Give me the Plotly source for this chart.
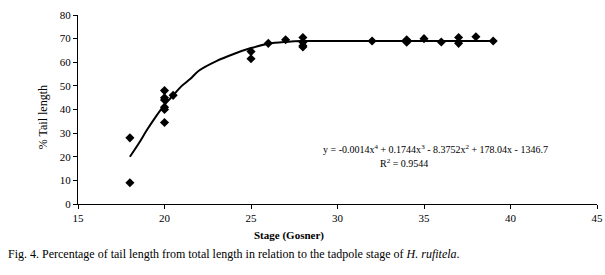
import plotly.graph_objects as go

# Observed data (stage, % tail length)
stage = [18, 18, 20, 20, 20, 20, 20, 20, 20.5, 25, 25, 26, 27, 28, 28, 28, 28,
         32, 34, 34, 35, 36, 37, 37, 38, 39]
tail_pct = [28, 9, 48, 45, 44, 41, 40, 34.5, 46, 64.5, 61.5, 68, 69.5, 70.5, 68.5, 67, 66.5,
            69, 68.5, 69.5, 70, 68.6, 70.5, 68, 70.8, 69]

# Trend line
trend_x = [18, 18.5, 19, 19.5, 20, 20.5, 21, 21.5, 22, 23, 24, 25, 26, 27, 28, 30, 32, 35, 39]
trend_y = [20, 25.5, 31.5, 37, 42, 46, 50, 53, 56.5, 60.5, 63.5, 66, 67.8, 68.6, 69, 69, 69, 69, 69]

x_ticks = [15, 20, 25, 30, 35, 40, 45]
y_ticks = [0, 10, 20, 30, 40, 50, 60, 70, 80]

FONT = "Liberation Serif, Times New Roman, serif"

fig = go.Figure()
fig.add_trace(go.Scatter(x=trend_x, y=trend_y, mode="lines",
                         line=dict(color="black", width=2, shape="spline"),
                         showlegend=False))
fig.add_trace(go.Scatter(x=stage, y=tail_pct, mode="markers",
                         marker=dict(symbol="diamond", size=7, color="black"),
                         showlegend=False))

def note(text, x, y, size=11, xanchor="center", angle=0):
    fig.add_annotation(xref="paper", yref="paper", x=x, y=y, text=text, showarrow=False,
                       xanchor=xanchor, yanchor="middle", textangle=angle,
                       font=dict(family=FONT, size=size, color="black"))

note("y = -0.0014x<sup>4</sup> + 0.1744x<sup>3</sup> - 8.3752x<sup>2</sup> + 178.04x - 1346.7",
     0.688, 0.29, size=10)
note("R<sup>2</sup> = 0.9544", 0.628, 0.215, size=10)
note("<b>Stage (Gosner)</b>", 0.407, -0.169, size=11)
note("% Tail length", -0.067, 0.46, size=12, angle=-90)
note("Fig. 4. Percentage of tail length from total length in relation to the tadpole stage of <i>H. rufitela</i>.",
     -0.139, -0.265, size=12, xanchor="left")

fig.update_layout(
    width=605, height=275,
    margin=dict(l=78, r=8, t=15, b=71, autoexpand=False),
    paper_bgcolor="white", plot_bgcolor="white",
    font=dict(family=FONT, size=11, color="black"),
    xaxis=dict(range=[15, 45], tickvals=x_ticks, showline=True, linecolor="black", linewidth=1,
               ticks="outside", ticklen=4, tickcolor="black", showgrid=False, zeroline=False,
               automargin=False, tickfont=dict(size=11), ticklabeloverflow="allow"),
    yaxis=dict(range=[0, 80], tickvals=y_ticks, showline=True, linecolor="black", linewidth=1,
               ticks="outside", ticklen=4, tickcolor="black", showgrid=False, zeroline=False,
               automargin=False, tickfont=dict(size=11)),
)

fig.write_html("out.html", config={"displayModeBar": False},
               post_script="document.body.style.margin='0';document.body.style.overflow='hidden';")
